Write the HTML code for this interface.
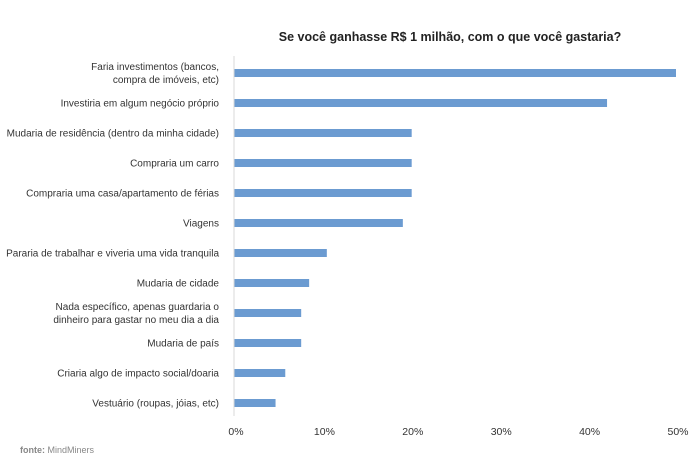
<!DOCTYPE html>
<html><head><meta charset="utf-8"><style>
body{margin:0;background:#fff;}
svg text{font-family:"Liberation Sans Narrow","Liberation Sans",sans-serif;}
</style></head><body>
<svg id="chart" width="700" height="459" viewBox="0 0 700 459" xmlns="http://www.w3.org/2000/svg">
<rect width="700" height="459" fill="#fff"/>
<text x="450" y="41" text-anchor="middle" font-size="12.5" font-weight="bold" fill="#222" style="font-family:'Liberation Sans',sans-serif">Se você ganhasse R$ 1 milhão, com o que você gastaria?</text>
<g id="bars"></g>
<g id="labels"></g>
<g id="ticks"></g>
<line x1="234" y1="56" x2="234" y2="416" stroke="#d9d9d9" stroke-width="1"/>
<text x="20" y="453" font-size="9" fill="#888"><tspan font-weight="bold">fonte:</tspan> MindMiners</text>
</svg>
<script>
const categories = [
  ["Faria investimentos (bancos,","compra de imóveis, etc)"],
  ["Investiria em algum negócio próprio"],
  ["Mudaria de residência (dentro da minha cidade)"],
  ["Compraria um carro"],
  ["Compraria uma casa/apartamento de férias"],
  ["Viagens"],
  ["Pararia de trabalhar e viveria uma vida tranquila"],
  ["Mudaria de cidade"],
  ["Nada específico, apenas guardaria o","dinheiro para gastar no meu dia a dia"],
  ["Mudaria de país"],
  ["Criaria algo de impacto social/doaria"],
  ["Vestuário (roupas, jóias, etc)"]
];
const values = [50, 42.2, 20.1, 20.1, 20.1, 19.1, 10.5, 8.5, 7.6, 7.6, 5.8, 4.7];
const tickValues = [0, 10, 20, 30, 40, 50];
const tickLabels = ["0%", "10%", "20%", "30%", "40%", "50%"];

const NS = "http://www.w3.org/2000/svg";
const x0 = 234, x1 = 676, xMax = 50;
function xScale(v){ return x0 + (v / xMax) * (x1 - x0); }
function yScale(i){ return 73 + i * 30.0; }

const bars = document.getElementById('bars');
const labels = document.getElementById('labels');
const ticks = document.getElementById('ticks');

values.forEach((v, i) => {
  const r = document.createElementNS(NS, 'rect');
  r.setAttribute('x', x0);
  r.setAttribute('y', yScale(i) - 4);
  r.setAttribute('width', xScale(v) - x0);
  r.setAttribute('height', 8);
  r.setAttribute('fill', '#6b9bd1');
  
  
  bars.appendChild(r);

  const lines = categories[i];
  const t = document.createElementNS(NS, 'text');
  t.setAttribute('text-anchor', 'end');
  t.setAttribute('font-size', '10');
  t.setAttribute('fill', '#333');
  
  
  const startY = yScale(i) + 3.5 - (lines.length - 1) * 6.5;
  lines.forEach((ln, k) => {
    const ts = document.createElementNS(NS, 'tspan');
    ts.setAttribute('x', 219);
    ts.setAttribute('y', startY + k * 13);
    ts.textContent = ln;
    t.appendChild(ts);
  });
  labels.appendChild(t);
});

tickValues.forEach((v, i) => {
  const t = document.createElementNS(NS, 'text');
  t.setAttribute('x', xScale(v) + 2);
  t.setAttribute('y', 435);
  t.setAttribute('text-anchor', 'middle');
  t.setAttribute('font-size', '10.5');
  t.setAttribute('fill', '#333');
  
  
  t.textContent = tickLabels[i];
  ticks.appendChild(t);
});
</script>
</body></html>
